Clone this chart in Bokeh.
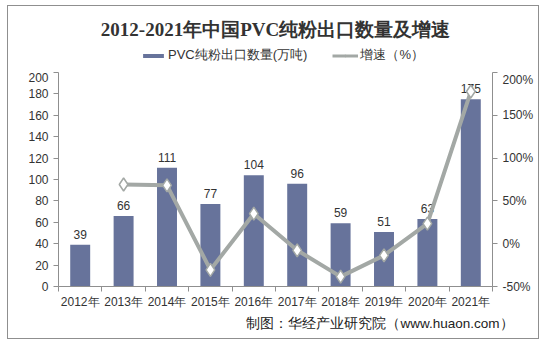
from bokeh.plotting import figure
from bokeh.layouts import column
from bokeh.models import (Range1d, LinearAxis, FixedTicker, PrintfTickFormatter,
                          Legend, LegendItem, Title, ColumnDataSource)
from bokeh.core.properties import value
from bokeh.embed import file_html
from bokeh.resources import INLINE

years = ["2012年", "2013年", "2014年", "2015年", "2016年", "2017年", "2018年", "2019年", "2020年", "2021年"]
exports = [39, 66, 111, 77, 104, 96, 59, 51, 63, 175]
growth_years = ["2013年", "2014年", "2015年", "2016年", "2017年", "2018年", "2019年", "2020年", "2021年"]
growth = [69.2, 68.2, -30.6, 35.1, -7.7, -38.5, -13.6, 23.5, 177.8]
left_ticks = [0, 20, 40, 60, 80, 100, 120, 140, 160, 180, 200]
right_ticks = [-50, 0, 50, 100, 150, 200]

xs = list(range(len(years)))
gx = [years.index(y) for y in growth_years]

FONT = "Liberation Sans"
BAR = "#67739B"
LINE = "#A3A8A5"
AX = "#8f8f8f"
TXT = "#333333"

src = ColumnDataSource(dict(x=xs, top=exports, lbl=[str(v) for v in exports]))
gsrc = ColumnDataSource(dict(x=gx, y=growth))

# ---------- header: title + legend (legend glyphs share the series, drawn out of view) ----------
h = figure(width=530, height=66, output_backend="svg", toolbar_location=None,
           x_range=Range1d(-0.5, len(years) - 0.5), y_range=Range1d(1000, 1001),
           min_border_left=0, min_border_right=0, min_border_top=38, min_border_bottom=0)
h.axis.visible = False
h.grid.visible = False
h.outline_line_color = None
h.title = Title(text="2012-2021年中国PVC纯粉出口数量及增速", align="center",
                text_font="Liberation Serif", text_font_size="19px", text_font_style="bold",
                text_color=TXT)
lb = h.vbar(x="x", top="top", width=0.46, source=src, fill_color=BAR, line_color=None)
ll = h.line(x="x", y="y", source=gsrc, line_color=LINE, line_width=3)
lm = h.scatter(x="x", y="y", source=gsrc, marker="diamond", size=9,
               fill_color="white", line_color=LINE, line_width=1.2)
legend = Legend(items=[LegendItem(label="PVC纯粉出口数量(万吨)", renderers=[lb]),
                       LegendItem(label="增速（%）", renderers=[ll, lm])],
                orientation="horizontal", location=(82, 8),
                label_text_font=FONT, label_text_font_size="13px", label_text_color=TXT,
                label_standoff=2, glyph_width=26, glyph_height=5, spacing=25,
                border_line_color=None, background_fill_alpha=0, padding=2, margin=0)
h.add_layout(legend, "center")

# ---------- main chart ----------
p = figure(width=530, height=266, output_backend="svg", toolbar_location=None,
           x_range=Range1d(-0.5, len(years) - 0.5), y_range=Range1d(0, 200),
           min_border_left=50, min_border_right=46, min_border_top=0, min_border_bottom=52)
p.extra_y_ranges = {"pct": Range1d(-50, 200)}
p.outline_line_color = None
p.xgrid.visible = False
p.ygrid.visible = False

p.vbar(x="x", top="top", width=0.46, source=src, fill_color=BAR, line_color=None)
p.text(x="x", y="top", text="lbl", source=src, y_offset=-6, text_align="center",
       text_baseline="bottom", text_font=value(FONT), text_font_size="12px", text_color=TXT)

p.line(x="x", y="y", source=gsrc, y_range_name="pct", line_color=LINE, line_width=4)
p.scatter(x="x", y="y", source=gsrc, y_range_name="pct", marker="diamond", size=13,
          fill_color="white", line_color=LINE, line_width=1.5)

xa = p.xaxis[0]
xa.ticker = FixedTicker(ticks=xs, minor_ticks=[i - 0.5 for i in range(len(years) + 1)])
xa.major_label_overrides = {i: y for i, y in enumerate(years)}
xa.major_tick_out = 0
xa.major_tick_in = 0
xa.minor_tick_out = 5
xa.minor_tick_in = 0
xa.minor_tick_line_color = AX
xa.axis_line_color = AX
xa.major_label_text_font = FONT
xa.major_label_text_font_size = "12px"
xa.major_label_text_color = TXT
xa.major_label_standoff = 3

ya = p.yaxis[0]
ya.ticker = FixedTicker(ticks=left_ticks)
ya.major_tick_out = 5
ya.major_tick_in = 0
ya.minor_tick_line_color = None
ya.axis_line_color = AX
ya.major_tick_line_color = AX
ya.major_label_text_font = FONT
ya.major_label_text_font_size = "12px"
ya.major_label_text_color = TXT

ra = LinearAxis(y_range_name="pct", ticker=FixedTicker(ticks=right_ticks),
                formatter=PrintfTickFormatter(format="%d%%"))
ra.major_tick_out = 5
ra.major_tick_in = 0
ra.minor_tick_line_color = None
ra.axis_line_color = AX
ra.major_tick_line_color = AX
ra.major_label_text_font = FONT
ra.major_label_text_font_size = "12px"
ra.major_label_text_color = TXT
p.add_layout(ra, "right")

foot = Title(text="制图：华经产业研究院（www.huaon.com）", align="right",
             text_font=FONT, text_font_size="13.5px", text_font_style="normal",
             text_color="#222222", offset=-21, standoff=4)
p.add_layout(foot, "below")

layout = column(h, p, spacing=0, margin=(5, 0, 0, 7),
                styles={"border": "1px solid #8f8f8f"})

open("out.html", "w").write(file_html(layout, INLINE))
